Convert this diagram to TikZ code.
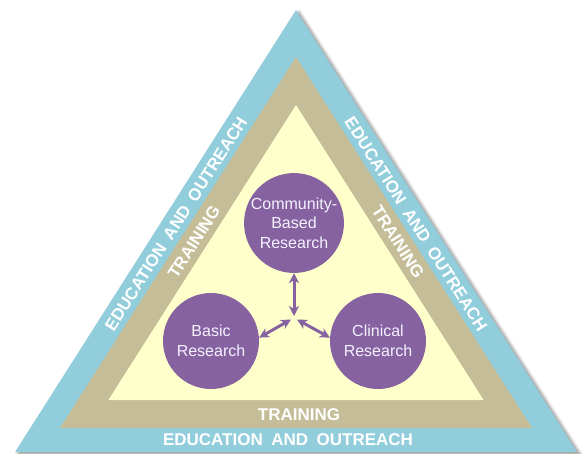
\documentclass[tikz,border=0pt]{standalone}
\usepackage{fontspec}
\setmainfont{Liberation Sans}
\usetikzlibrary{arrows.meta,shadows.blur}
\definecolor{bandblue}{HTML}{92CDDC}
\definecolor{bandtan}{HTML}{C4BD97}
\definecolor{coreyellow}{HTML}{FFFFCC}
\definecolor{circpurple}{HTML}{8662A0}
\definecolor{circtext}{HTML}{F4F2FF}
\begin{document}
\begin{tikzpicture}[x=1pt,y=-1pt,
  bandtext/.style={text=white,font=\fontsize{17}{19}\selectfont\bfseries,inner sep=0pt},
  trainlbl/.style={bandtext},
  research/.style={circle,fill=circpurple,minimum size=96pt,inner sep=0pt,align=center,
     text=circtext,font=\fontsize{16}{19.5}\selectfont},
  arr/.style={circpurple,line width=3pt,{Stealth[length=10pt,width=10pt,inset=3pt]}-{Stealth[length=10pt,width=10pt,inset=3pt]}}
]
\useasboundingbox (0,0) rectangle (585,453);
% layered triangles
\fill[bandblue,blur shadow={shadow xshift=3pt,shadow yshift=-2pt,shadow blur radius=3pt,shadow opacity=45}]
  (296,10) -- (577,452) -- (15,452) -- cycle;
\fill[bandtan] (296,57) -- (532,428) -- (60,428) -- cycle;
\fill[coreyellow] (296,105) -- (483.6,400) -- (108.4,400) -- cycle;
% band labels
\node[bandtext] (eduB) at (288,440) {EDUCATION\hspace{0.5em}AND\hspace{0.5em}OUTREACH};
\node[trainlbl] (trB) at (299,415) {TRAINING};
\node[bandtext,rotate=57.5] (eduL) at (176,224) {EDUCATION\hspace{0.5em}AND\hspace{0.5em}OUTREACH};
\node[trainlbl,rotate=57.5] (trL) at (194,242) {TRAINING};
\node[bandtext,rotate=-57.5] (eduR) at (416,224) {EDUCATION\hspace{0.5em}AND\hspace{0.5em}OUTREACH};
\node[trainlbl,rotate=-57.5] (trR) at (398,242) {TRAINING};
% circles
\node[research] (comm) at (294,223) {Community-\\Based\\Research};
\node[research] (basic) at (211,341) {Basic\\Research};
\node[research] (clin) at (378,341) {Clinical\\Research};
% hub arrows
\coordinate (hubU) at (294,316);
\coordinate (hubL) at (291,319.5);
\coordinate (hubR) at (297,319.5);
\draw[arr] (hubU) -- (comm.south);
\draw[arr] (hubL) -- (basic.4);
\draw[arr] (hubR) -- (clin.176);
\end{tikzpicture}
\end{document}
